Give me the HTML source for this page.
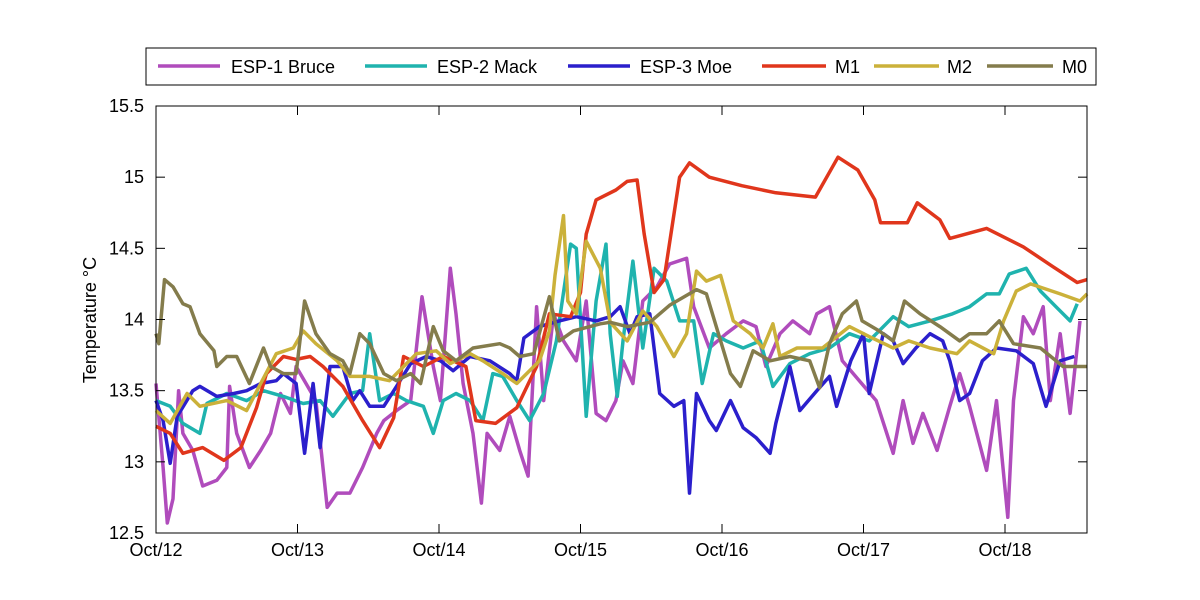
<!DOCTYPE html>
<html><head><meta charset="utf-8"><style>
body{margin:0;background:#fff;}
svg{display:block;font-family:"Liberation Sans",Arial,sans-serif;}
</style></head><body>
<svg id="chart" width="1200" height="600" viewBox="0 0 1200 600">
<rect x="0" y="0" width="1200" height="600" fill="#fff"/>
<g id="series"></g>
<rect x="156" y="106" width="931" height="427" fill="none" stroke="#000" stroke-width="1"/>
<g id="axes"></g>
<text x="96" y="320" font-size="18" text-anchor="middle" transform="rotate(-90 96 320)">Temperature °C</text>
<g>
<rect x="146" y="48" width="950" height="37" fill="#fff" stroke="#000" stroke-width="1"/>
<line x1="158" y1="66" x2="220" y2="66" stroke="#b04cbc" stroke-width="3.5"/>
<text x="231" y="73" font-size="18">ESP-1 Bruce</text>
<line x1="365" y1="66" x2="427" y2="66" stroke="#1fb3ae" stroke-width="3.5"/>
<text x="437" y="73" font-size="18">ESP-2 Mack</text>
<line x1="568" y1="66" x2="630" y2="66" stroke="#2b1fcc" stroke-width="3.5"/>
<text x="640" y="73" font-size="18">ESP-3 Moe</text>
<line x1="762" y1="66" x2="826" y2="66" stroke="#e0361c" stroke-width="3.5"/>
<text x="835" y="73" font-size="18">M1</text>
<line x1="874" y1="66" x2="939" y2="66" stroke="#cbb13a" stroke-width="3.5"/>
<text x="947" y="73" font-size="18">M2</text>
<line x1="987" y1="66" x2="1053" y2="66" stroke="#847c4c" stroke-width="3.5"/>
<text x="1062" y="73" font-size="18">M0</text>
</g>
</svg>
<script>
const xTickLabels=["Oct/12","Oct/13","Oct/14","Oct/15","Oct/16","Oct/17","Oct/18"];
const yTicks=[12.5,13,13.5,14,14.5,15,15.5];
const yTickLabels=["12.5","13","13.5","14","14.5","15","15.5"];

const esp1T=[0,0.05,0.08,0.12,0.16,0.19,0.26,0.33,0.43,0.5,0.52,0.57,0.66,0.74,0.81,0.88,0.95,0.99,1.06,1.13,1.21,1.28,1.37,1.46,1.56,1.61,1.7,1.8,1.88,1.96,2.01,2.08,2.12,2.17,2.24,2.3,2.34,2.43,2.5,2.57,2.63,2.69,2.74,2.81,2.88,2.97,3.04,3.11,3.18,3.25,3.3,3.37,3.44,3.54,3.63,3.75,3.8,3.91,4.03,4.15,4.24,4.31,4.41,4.5,4.62,4.67,4.76,4.85,4.97,5.09,5.21,5.28,5.35,5.42,5.52,5.61,5.68,5.75,5.87,5.94,6.02,6.06,6.13,6.2,6.27,6.32,6.39,6.46,6.53];
const esp1V=[13.55,12.96,12.57,12.74,13.5,13.2,13.08,12.83,12.87,12.96,13.53,13.2,12.96,13.08,13.2,13.48,13.34,13.67,13.55,13.43,12.68,12.78,12.78,12.96,13.2,13.29,13.36,13.43,14.16,13.67,13.43,14.36,14.04,13.55,13.2,12.71,13.2,13.08,13.32,13.08,12.9,14.09,13.43,14.04,13.85,13.71,14.13,13.34,13.29,13.43,13.71,13.55,14.13,14.23,14.39,14.43,14.09,13.8,13.9,13.99,13.95,13.67,13.9,13.99,13.9,14.04,14.09,13.71,13.57,13.43,13.06,13.43,13.13,13.34,13.08,13.39,13.62,13.39,12.94,13.43,12.61,13.43,14.02,13.9,14.09,13.43,13.9,13.34,13.99];

const esp2T=[0,0.1,0.19,0.31,0.36,0.5,0.64,0.76,0.9,1.04,1.16,1.25,1.37,1.46,1.51,1.58,1.68,1.77,1.89,1.96,2.03,2.12,2.22,2.31,2.38,2.45,2.55,2.64,2.74,2.83,2.93,2.97,3.04,3.11,3.18,3.21,3.26,3.3,3.37,3.44,3.52,3.61,3.7,3.8,3.86,3.94,4.03,4.15,4.27,4.36,4.48,4.62,4.76,4.9,5.04,5.21,5.32,5.47,5.63,5.75,5.87,5.96,6.03,6.15,6.25,6.36,6.46,6.51];
const esp2V=[13.43,13.39,13.27,13.2,13.41,13.48,13.43,13.5,13.46,13.41,13.43,13.32,13.48,13.5,13.9,13.43,13.48,13.43,13.39,13.2,13.43,13.48,13.43,13.29,13.62,13.6,13.43,13.29,13.48,13.85,14.53,14.5,13.32,14.13,14.53,13.9,13.46,13.85,14.41,13.8,14.36,14.27,13.99,13.99,13.55,13.9,13.85,13.8,13.85,13.53,13.69,13.76,13.8,13.9,13.85,14.02,13.95,13.99,14.04,14.09,14.18,14.18,14.32,14.36,14.2,14.09,13.99,14.11];

const esp3T=[0,0.05,0.1,0.15,0.26,0.31,0.43,0.55,0.64,0.74,0.85,0.9,0.99,1.05,1.11,1.16,1.23,1.32,1.39,1.44,1.51,1.61,1.7,1.8,1.91,2.01,2.1,2.22,2.36,2.5,2.55,2.6,2.71,2.85,2.97,3.11,3.21,3.28,3.35,3.4,3.49,3.56,3.66,3.73,3.77,3.82,3.91,3.96,4.06,4.15,4.24,4.34,4.38,4.48,4.55,4.67,4.76,4.81,4.91,5.0,5.04,5.14,5.21,5.28,5.37,5.47,5.56,5.61,5.68,5.75,5.84,5.94,6.08,6.2,6.29,6.39,6.49];
const esp3V=[13.43,13.29,12.99,13.32,13.5,13.53,13.46,13.48,13.5,13.55,13.57,13.62,13.55,13.06,13.55,13.1,13.67,13.67,13.43,13.5,13.39,13.39,13.53,13.69,13.74,13.71,13.64,13.74,13.71,13.62,13.57,13.87,13.95,13.99,14.02,13.99,14.02,14.09,13.9,14.02,14.04,13.48,13.39,13.43,12.78,13.48,13.29,13.22,13.43,13.24,13.17,13.06,13.27,13.67,13.36,13.5,13.6,13.39,13.71,13.9,13.48,13.9,13.85,13.69,13.8,13.9,13.85,13.71,13.43,13.48,13.71,13.8,13.78,13.69,13.39,13.71,13.74];

const m1T=[0,0.1,0.19,0.33,0.48,0.6,0.71,0.78,0.9,0.99,1.09,1.18,1.32,1.46,1.58,1.68,1.75,1.89,2.03,2.19,2.26,2.4,2.55,2.69,2.78,2.93,3.0,3.04,3.11,3.25,3.33,3.4,3.45,3.52,3.59,3.7,3.77,3.91,4.14,4.38,4.66,4.82,4.96,5.08,5.12,5.31,5.38,5.54,5.61,5.87,6.13,6.34,6.51,6.58];
const m1V=[13.25,13.2,13.06,13.1,13.01,13.1,13.38,13.62,13.74,13.72,13.74,13.67,13.53,13.29,13.1,13.31,13.74,13.67,13.74,13.67,13.29,13.27,13.38,13.67,14.04,14.02,14.19,14.6,14.84,14.91,14.97,14.98,14.6,14.19,14.28,15.0,15.1,15.0,14.94,14.89,14.86,15.14,15.05,14.84,14.68,14.68,14.82,14.7,14.57,14.64,14.51,14.37,14.26,14.28];

const m2T=[0,0.1,0.22,0.31,0.5,0.64,0.74,0.85,0.97,1.04,1.13,1.28,1.37,1.51,1.65,1.75,1.84,1.98,2.08,2.22,2.31,2.45,2.55,2.62,2.71,2.78,2.82,2.88,2.91,2.97,3.04,3.14,3.21,3.33,3.44,3.54,3.66,3.75,3.82,3.89,3.99,4.08,4.2,4.29,4.36,4.41,4.53,4.71,4.9,5.04,5.21,5.32,5.47,5.66,5.75,5.92,5.99,6.08,6.18,6.39,6.53,6.58];
const m2V=[13.36,13.27,13.48,13.39,13.43,13.36,13.55,13.76,13.8,13.92,13.83,13.71,13.6,13.6,13.57,13.67,13.76,13.78,13.69,13.76,13.71,13.62,13.55,13.62,13.71,13.92,14.31,14.73,14.13,14.04,14.55,14.36,13.98,13.85,14.06,13.95,13.74,13.9,14.34,14.27,14.31,13.99,13.9,13.8,13.97,13.74,13.8,13.8,13.95,13.88,13.8,13.85,13.8,13.76,13.85,13.76,13.99,14.2,14.25,14.18,14.13,14.18];

const m0T=[0,0.02,0.06,0.12,0.19,0.24,0.31,0.41,0.43,0.5,0.57,0.66,0.76,0.81,0.9,0.99,1.05,1.13,1.23,1.32,1.37,1.44,1.51,1.61,1.7,1.8,1.87,1.96,2.03,2.12,2.24,2.43,2.5,2.57,2.67,2.78,2.85,2.95,3.14,3.21,3.33,3.49,3.63,3.82,3.89,3.99,4.06,4.13,4.22,4.34,4.48,4.62,4.69,4.76,4.85,4.95,4.99,5.11,5.21,5.29,5.4,5.54,5.68,5.75,5.87,5.96,6.06,6.25,6.41,6.58];
const m0V=[13.9,13.83,14.28,14.23,14.11,14.09,13.9,13.78,13.67,13.74,13.74,13.55,13.8,13.67,13.62,13.62,14.13,13.9,13.76,13.71,13.62,13.9,13.83,13.62,13.57,13.62,13.55,13.95,13.78,13.71,13.8,13.83,13.8,13.74,13.76,14.16,13.85,13.92,13.97,13.98,13.95,13.98,14.1,14.21,14.18,13.85,13.62,13.53,13.78,13.71,13.74,13.71,13.52,13.83,14.04,14.13,13.99,13.92,13.85,14.13,14.04,13.95,13.85,13.9,13.9,13.99,13.83,13.8,13.67,13.67];

const X0=156,X1=1087,Y0=533,Y1=106,DAY=141.5;
function xScale(t){return X0+t*DAY;}
function yScale(v){return Y0-(v-12.5)/(15.5-12.5)*(Y0-Y1);}
const NS="http://www.w3.org/2000/svg";
const axes=document.getElementById('axes');
function mk(tag,attrs,parent){const e=document.createElementNS(NS,tag);for(const k in attrs)e.setAttribute(k,attrs[k]);parent.appendChild(e);return e;}

xTickLabels.forEach((lab,i)=>{
  const x=xScale(i);
  const t1=mk('line',{x1:x,y1:Y0,x2:x,y2:Y0-9,stroke:'#000'},axes);
  
  
  const t2=mk('line',{x1:x,y1:Y1,x2:x,y2:Y1+9,stroke:'#000'},axes);
  
  
  const tx=mk('text',{x:x,y:556,'font-size':18,'text-anchor':'middle'},axes);
  tx.textContent=lab;
  
  
});
yTicks.forEach((v,i)=>{
  const y=yScale(v);
  const t1=mk('line',{x1:X0,y1:y,x2:X0+9,y2:y,stroke:'#000'},axes);
  
  
  const t2=mk('line',{x1:X1,y1:y,x2:X1-9,y2:y,stroke:'#000'},axes);
  
  
  const tx=mk('text',{x:144,y:y+6,'font-size':18,'text-anchor':'end'},axes);
  tx.textContent=yTickLabels[i];
  
  
});

const sg=document.getElementById('series');
function drawSeries(ts,vs,color,name){
  const d=ts.map((t,i)=>(i?'L':'M')+xScale(t).toFixed(1)+' '+yScale(vs[i]).toFixed(1)).join(' ');
  const p=mk('path',{d:d,fill:'none',stroke:color,'stroke-width':3.5,'stroke-linejoin':'round'},sg);
  
  
}
drawSeries(esp1T,esp1V,'#b04cbc','line-esp1-bruce');
drawSeries(esp2T,esp2V,'#1fb3ae','line-esp2-mack');
drawSeries(esp3T,esp3V,'#2b1fcc','line-esp3-moe');
drawSeries(m1T,m1V,'#e0361c','line-m1');
drawSeries(m2T,m2V,'#cbb13a','line-m2');
drawSeries(m0T,m0V,'#847c4c','line-m0');
</script>
</body></html>
